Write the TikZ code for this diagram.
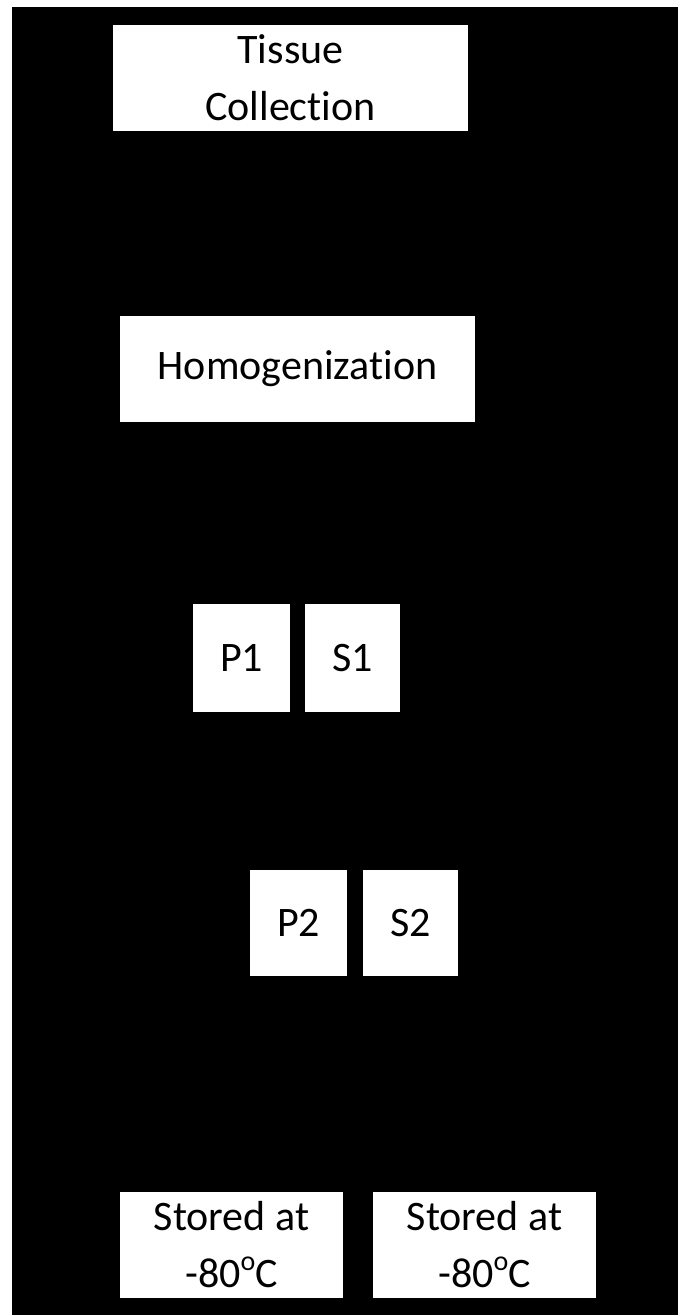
\documentclass[tikz,border=0pt]{standalone}
\usepackage{fontspec}
\setmainfont[Ligatures={NoCommon}]{Carlito}
\newcommand{\degsup}{\raisebox{0.85ex}{\fontsize{28}{28}\selectfont o}}
\begin{document}
\begin{tikzpicture}[x=1pt,y=-1pt,
  box/.style={fill=white,draw=none,inner sep=0pt,align=center,
    font=\fontsize{42}{57}\selectfont,text=black}]
\useasboundingbox (0,0) rectangle (678,1315);
\fill[white] (0,0) rectangle (678,1315);
\fill[black] (12,7) rectangle (678,1315);
\node[box,minimum width=355pt,minimum height=106pt] (tc) at (290.5,78) {Tissue\\Collection};
\node[box,minimum width=355pt,minimum height=106pt] (hom) at (297.5,369) {Homogenization};
\node[box,minimum width=97pt,minimum height=108pt] (p1) at (241.5,658) {P1};
\node[box,minimum width=95pt,minimum height=108pt] (s1) at (352.5,658) {S1};
\node[box,minimum width=97pt,minimum height=106pt] (p2) at (298.5,923) {P2};
\node[box,minimum width=95pt,minimum height=106pt] (s2) at (410.5,923) {S2};
\node[box,minimum width=223pt,minimum height=106pt] (stl) at (231.5,1245) {Stored at\\-80\degsup C};
\node[box,minimum width=223pt,minimum height=106pt] (str) at (484.5,1245) {Stored at\\-80\degsup C};
\end{tikzpicture}
\end{document}
